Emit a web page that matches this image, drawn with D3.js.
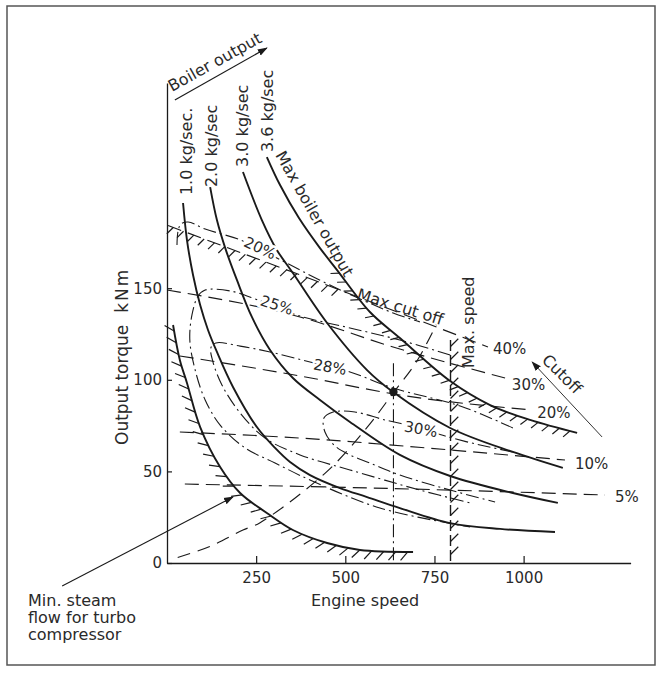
<!DOCTYPE html>
<html><head><meta charset="utf-8">
<script src="https://cdn.jsdelivr.net/npm/d3@7"></script>
<style>
body{margin:0;background:#fff}
svg{display:block}
text{font-family:"DejaVu Sans",sans-serif;fill:#2a2a2a}
</style></head>
<body><svg id="c" width="660" height="673"></svg>
<script>
// ---------- data (engine speed, torque kNm) ----------
const xTicks = [250, 500, 750, 1000];
const yTicks = [0, 50, 100, 150];

const flowLabels = ["1.0 kg/sec.", "2.0 kg/sec", "3.0 kg/sec", "3.6 kg/sec"];
const flow10 = [[45,196.5],[56,176.3],[73,157.2],[93,140.8],[115,127.2],[140,115.2],[185,96.1],[252,74.2],[303,62.8],[345,55.1],[401,48.0],[485,40.9],[561,36.0],[653,30.0],[794,21.8],[934,18.6],[1088,16.9]];
const flow20 = [[121,205.2],[140,187.2],[165,170.9],[196,154.5],[238,134.3],[289,116.3],[353,101.0],[429,89.0],[513,77.0],[653,59.0],[794,47.5],[970,38.2],[1096,32.8]];
const flow30 = [[213,213.4],[266,187.2],[308,170.9],[353,158.3],[449,131.0],[561,105.3],[634,93.3],[794,73.7],[970,60.6],[1110,51.9]];
const flow36 = [[280,221.6],[317,206.3],[370,188.3],[429,171.9],[477,159.9],[569,137.0],[653,122.8],[794,99.3],[906,86.2],[1018,78.1],[1150,71.0]];

const minSteam = [[17,129.9],[36,110.8],[56,98.3],[93,74.2],[149,52.4],[205,38.2],[280,27.3],[353,18.0],[449,10.9],[541,7.1],[690,6.0]];

const cutoffNames = ["40%","30%","20%","10%","5%"];
const cut40 = [[3,184.2],[485,149.0],[900,117.9]];
const cut30 = [[0,149.0],[373,134.3],[634,117.9],[948,101.0]];
const cut20 = [[36,113.0],[373,102.1],[653,91.7],[1024,83.5]];
const cut10 = [[36,71.5],[373,68.2],[794,61.7],[1116,56.2]];
const cut05 = [[50,43.1],[794,39.8],[1228,37.1]];

const effNames = ["20%","25%","28%","30%"];
const eff20 = [[28,173.6],[31,181.2],[39,185.0],[59,186.1],[107,182.3],[213,175.8],[308,166.5],[457,151.7],[634,136.5],[709,131.6]];
const eff25 = [[794,113.5],[653,121.7],[513,128.3],[373,134.8],[255,143.6],[177,148.5],[107,149.0],[87,145.7],[70,135.4],[64,121.7],[79,105.3],[107,89.0],[149,75.3],[219,62.8],[303,54.6],[401,45.3],[597,30.0],[850,19.7]];
const eff28 = [[970,73.7],[822,85.7],[634,95.5],[513,104.3],[401,109.7],[289,115.2],[205,118.4],[137,120.1],[123,117.4],[129,109.7],[154,97.2],[205,81.9],[275,68.2],[373,59.0],[513,50.8],[709,39.8],[850,32.8]];
const eff30 = [[970,60.6],[878,64.4],[780,69.3],[709,73.7],[611,78.1],[527,82.4],[466,82.4],[440,79.1],[443,71.5],[471,63.9],[513,59.0],[569,54.6],[653,48.0],[794,39.8],[920,33.3]];

const propeller = [[30,3],[120,9],[213,18],[261,22],[449,50],[561,74],[635,93],[700,110],[755,130]];
const maxSpeed = 795;
const maxSpeedTop = 121.7;
const designPoint = [635, 93.3];
const designTop = 109;

// ---------- setup ----------
const svg = d3.select("#c");
const x = d3.scaleLinear().domain([0,1300]).range([167,630.6]);
const y = d3.scaleLinear().domain([0,262]).range([563,83]);
const smooth = d3.line().x(d=>x(d[0])).y(d=>y(d[1])).curve(d3.curveCatmullRom.alpha(0.5));
const mono = d3.line().x(d=>x(d[0])).y(d=>y(d[1])).curve(d3.curveMonotoneX);
const lin = d3.line().x(d=>x(d[0])).y(d=>y(d[1]));
const INK = "#1a1a1a";

svg.append("defs").append("marker").attr("id","arr").attr("viewBox","0 0 10 10")
  .attr("refX",9).attr("refY",5).attr("markerWidth",10).attr("markerHeight",10)
  .attr("markerUnits","userSpaceOnUse").attr("orient","auto")
  .append("path").attr("d","M0,1.5 L10,5 L0,8.5 Z").attr("fill",INK);

// frame
svg.append("rect").attr("x",7).attr("y",6).attr("width",648).attr("height",659)
  .attr("fill","none").attr("stroke","#555").attr("stroke-width",1.5);

// axes
const gx = svg.append("g").attr("transform",`translate(0,${y(0)})`)
  .call(d3.axisBottom(x).tickValues(xTicks).tickFormat(d3.format("d")).tickSizeInner(-7).tickSizeOuter(0).tickPadding(9));
const gy = svg.append("g").attr("transform",`translate(${x(0)},0)`)
  .call(d3.axisLeft(y).tickValues(yTicks).tickFormat(d3.format("d")).tickSizeInner(-5).tickSizeOuter(0).tickPadding(5));
[gx,gy].forEach(g=>{
  g.attr("font-family",null).attr("font-size",null);
  g.select(".domain").attr("stroke",INK).attr("stroke-width",1.3);
  g.selectAll(".tick line").attr("stroke",INK).attr("stroke-width",1.2);
  g.selectAll(".tick text").attr("fill","#2a2a2a").style("font-size","15px");
});

// hatch helper
function hatch(path, o){
  const {step=12,len=10,ang=40,side=1,xmin=-1e9,xmax=1e9,from=0,to=1}=o||{};
  const node = path.node(), L = node.getTotalLength(), a = ang*Math.PI/180, segs=[];
  for(let s=from*L+step/2; s<=to*L; s+=step){
    const p=node.getPointAtLength(s), q1=node.getPointAtLength(Math.max(0,s-1.5)), q2=node.getPointAtLength(Math.min(L,s+1.5));
    if(p.x<xmin||p.x>xmax) continue;
    let tx=q2.x-q1.x, ty=q2.y-q1.y; const m=Math.hypot(tx,ty)||1; tx/=m; ty/=m;
    const nx=-ty*side, ny=tx*side;
    const hx=nx*Math.cos(a)-tx*Math.sin(a), hy=ny*Math.cos(a)-ty*Math.sin(a);
    segs.push([p.x,p.y,p.x+hx*len,p.y+hy*len]);
  }
  svg.append("g").selectAll("line").data(segs).join("line")
    .attr("x1",d=>d[0]).attr("y1",d=>d[1]).attr("x2",d=>d[2]).attr("y2",d=>d[3])
    .attr("stroke",INK).attr("stroke-width",1.2);
}

// efficiency contours (dash-dot)
[eff20,eff25,eff28,eff30].forEach(d=>{
  svg.append("path").attr("d",smooth(d)).attr("fill","none").attr("stroke",INK)
    .attr("stroke-width",1.1).attr("stroke-dasharray","13,4,2,4");
});

// cutoff lines (dashed)
const cutPaths = [cut40,cut30,cut20,cut10,cut05].map(d=>
  svg.append("path").attr("d",mono(d)).attr("fill","none").attr("stroke",INK)
    .attr("stroke-width",1.15).attr("stroke-dasharray","14,7"));
// max cut off hatching on first stretch of 40% line
hatch(cutPaths[0],{xmax:342,step:11,len:9,ang:25});

// propeller-law curve
svg.append("path").attr("d",smooth(propeller)).attr("fill","none").attr("stroke",INK)
  .attr("stroke-width",1.15).attr("stroke-dasharray","13,8");

// design point vertical (dash-dot)
svg.append("line").attr("x1",x(designPoint[0])).attr("x2",x(designPoint[0]))
  .attr("y1",y(designTop)).attr("y2",y(0)).attr("stroke",INK).attr("stroke-width",1.1)
  .attr("stroke-dasharray","13,4,2,4");

// max speed line
const ms = svg.append("path").attr("d",lin([[maxSpeed,maxSpeedTop],[maxSpeed,0]]))
  .attr("stroke",INK).attr("stroke-width",1.4).attr("stroke-dasharray","11,4").attr("fill","none");
hatch(ms,{side:-1,step:13,len:11,ang:45});

// boiler output curves (solid)
const flowPaths = [flow10,flow20,flow30,flow36].map(d=>
  svg.append("path").attr("d",smooth(d)).attr("fill","none").attr("stroke",INK).attr("stroke-width",1.9));
hatch(flowPaths[3],{xmin:338,step:11,len:9,ang:35});

// min steam flow boundary
const msf = svg.append("path").attr("d",smooth(minSteam)).attr("fill","none").attr("stroke",INK).attr("stroke-width",1.9);
hatch(msf,{step:12,len:11,ang:40});

// design point
svg.append("circle").attr("cx",x(designPoint[0])).attr("cy",y(designPoint[1])).attr("r",4.2).attr("fill",INK);

// ---------- text ----------
const T = (txt,px,py,rot,opt)=>{
  const o=opt||{};
  const t=svg.append("text").attr("transform",`translate(${px},${py}) rotate(${rot||0})`)
    .attr("text-anchor",o.anchor||"start").style("font-size",(o.size||16)+"px").text(txt);
  if(o.dy) t.attr("dy",o.dy);
  if(o.halo) t.attr("stroke","#fff").attr("stroke-width",5).attr("paint-order","stroke");
  return t;
};

// flow labels (rotated)
const flowLabelPos = [[70,200.8],[140,205.2],[227,216.2],[297,224.3]];
flowLabels.forEach((s,i)=>T(s,x(flowLabelPos[i][0]),y(flowLabelPos[i][1]),-90));
T("Max boiler output",x(303),y(222.7),60.5);

// boiler output arrow + label
svg.append("line").attr("x1",x(22)).attr("y1",y(252.7)).attr("x2",x(280)).attr("y2",y(281.1))
  .attr("stroke",INK).attr("stroke-width",1.2).attr("marker-end","url(#arr)");
T("Boiler output",x(14),y(257.1),-29);

// Max cut off & max speed labels
T("Max cut off",x(530),y(144.1),17);
T("Max. speed",x(861),y(106.4),-90);

// cutoff end labels
const cutLabelPos = [[914,114.1],[967,94.4],[1038,79.1],[1144,51.3],[1256,33.3]];
cutoffNames.forEach((s,i)=>T(s,x(cutLabelPos[i][0]),y(cutLabelPos[i][1]),0,{size:15}));

// Cutoff arrow
svg.append("line").attr("x1",x(1220)).attr("y1",y(68.8)).attr("x2",x(1024)).attr("y2",y(109.7))
  .attr("stroke","#333").attr("stroke-width",1).attr("marker-end","url(#arr)");
T("Cutoff",x(1049),y(110.3),45);

// efficiency labels
const effLabelPos = [[261,171.9,25],[308,140.8,18],[457,107,10],[712,73.1,10]];
effNames.forEach((s,i)=>T(s,x(effLabelPos[i][0]),y(effLabelPos[i][1]),effLabelPos[i][2],{anchor:"middle",dy:"0.35em",size:15,halo:true}));

// axis titles
const yt = T("Output torque",128,445,-90,{anchor:"start",size:17});
yt.append("tspan").attr("dx",12).style("letter-spacing","2px").text("kNm");
T("Engine speed",365,606,0,{anchor:"middle"});

// min steam annotation
svg.append("line").attr("x1",x(-294)).attr("y1",y(-12.6)).attr("x2",x(185)).attr("y2",y(36))
  .attr("stroke",INK).attr("stroke-width",1.1).attr("marker-end","url(#arr)");
T("Min. steam",28,606);
T("flow for turbo",28,623);
T("compressor",28,640);
</script></body></html>
